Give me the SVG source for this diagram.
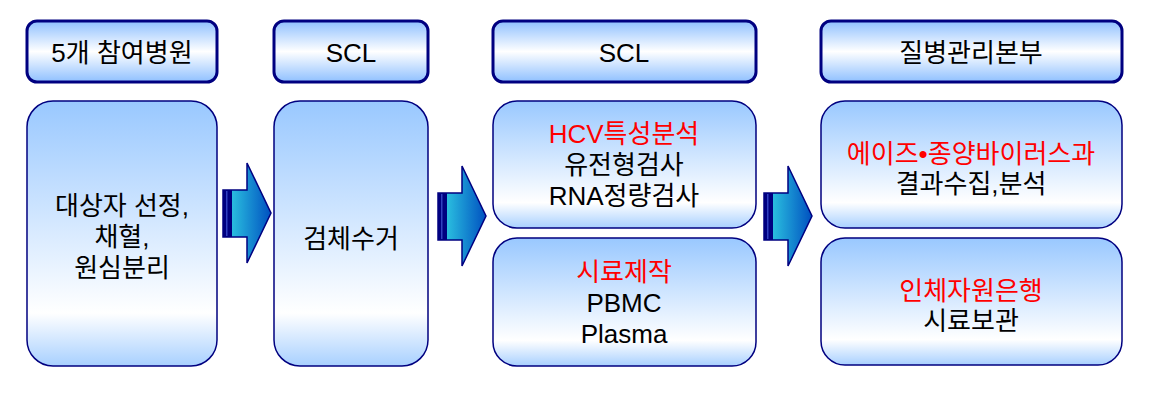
<svg xmlns="http://www.w3.org/2000/svg" width="1149" height="404" viewBox="0 0 1149 404">
<defs>
<linearGradient id="gh" x1="0" y1="0" x2="0" y2="1">
<stop offset="0" stop-color="#8fc0ff"/>
<stop offset="0.5" stop-color="#ffffff"/>
<stop offset="1" stop-color="#8fc0ff"/>
</linearGradient>
<linearGradient id="gb" x1="0" y1="0" x2="0" y2="1">
<stop offset="0" stop-color="#99c8ff"/>
<stop offset="0.8" stop-color="#ffffff"/>
<stop offset="1" stop-color="#a8d0ff"/>
</linearGradient>
<linearGradient id="ga" x1="0" y1="0" x2="1" y2="0">
<stop offset="0" stop-color="#33d6e6"/>
<stop offset="1" stop-color="#0050c0"/>
</linearGradient>
<g id="arrow">
<path d="M0,27 H24 V0 L48,50 L24,100 V74 H0 Z" fill="url(#ga)" stroke="#000080" stroke-width="1.5" stroke-linejoin="miter"/>
<rect x="0" y="27" width="9" height="47" fill="#000080"/>
<rect x="3" y="28" width="1.5" height="45" fill="#3040c0"/>
</g>
</defs>
<style>
.hd{fill:url(#gh);stroke:#000080;stroke-width:3}
.bd{fill:url(#gb);stroke:#000080;stroke-width:1.5}
text{font-family:"Liberation Sans","Noto Sans CJK KR",sans-serif;font-size:26px;text-anchor:middle;fill:#000}
.r{fill:#ff0000}
</style>
<g id="header1"><rect class="hd" x="27" y="21" width="190" height="61" rx="10"/><text x="122" y="62">5개 참여병원</text></g>
<g id="header2"><rect class="hd" x="274" y="21" width="154" height="61" rx="10"/><text x="351" y="62">SCL</text></g>
<g id="header3"><rect class="hd" x="493" y="21" width="263" height="61" rx="10"/><text x="624" y="62">SCL</text></g>
<g id="header4"><rect class="hd" x="821" y="21" width="301" height="61" rx="10"/><text x="971" y="62">질병관리본부</text></g>

<g id="body1"><rect class="bd" x="27" y="101" width="190" height="265" rx="26"/>
<text x="122" y="215">대상자 선정,<tspan x="122" dy="31">채혈,</tspan><tspan x="122" dy="31">원심분리</tspan></text></g>
<g id="body2"><rect class="bd" x="274" y="101" width="154" height="265" rx="26"/>
<text x="351" y="248">검체수거</text></g>
<g id="body3a"><rect class="bd" x="493" y="101" width="263" height="127" rx="24"/>
<text x="624" y="143"><tspan class="r">HCV특성분석</tspan><tspan x="624" dy="31">유전형검사</tspan><tspan x="624" dy="31">RNA정량검사</tspan></text></g>
<g id="body3b"><rect class="bd" x="493" y="238" width="263" height="128" rx="24"/>
<text x="624" y="281"><tspan class="r">시료제작</tspan><tspan x="624" dy="31">PBMC</tspan><tspan x="624" dy="31">Plasma</tspan></text></g>
<g id="body4a"><rect class="bd" x="821" y="101" width="301" height="127" rx="24"/>
<text x="971" y="163"><tspan class="r">에이즈•종양바이러스과</tspan><tspan x="971" dy="30">결과수집,분석</tspan></text></g>
<g id="body4b"><rect class="bd" x="821" y="238" width="301" height="127" rx="24"/>
<text x="971" y="300"><tspan class="r">인체자원은행</tspan><tspan x="971" dy="30">시료보관</tspan></text></g>

<g id="connectors">
<use href="#arrow" x="223" y="163"/>
<use href="#arrow" x="438" y="166"/>
<use href="#arrow" x="764" y="166"/>
</g>
</svg>
